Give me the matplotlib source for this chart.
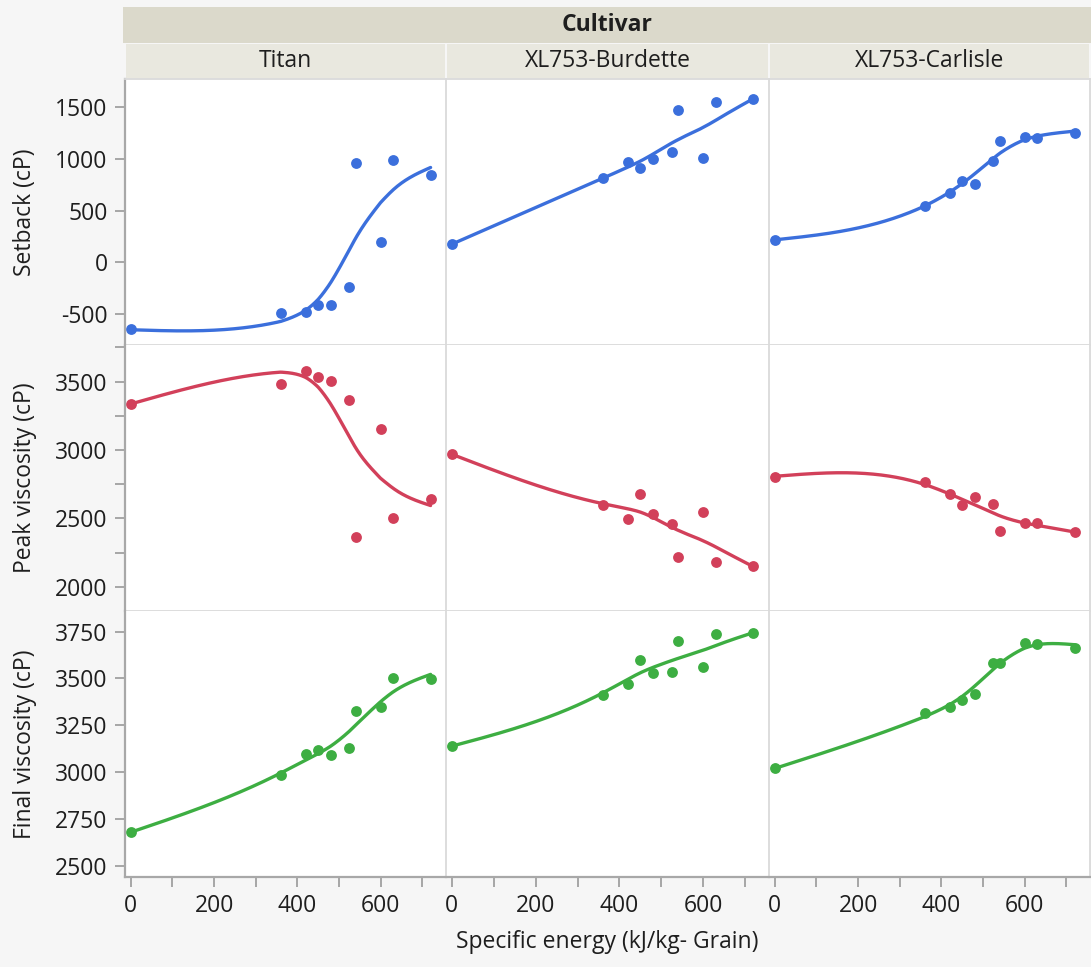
import matplotlib.pyplot as plt
import numpy as np
from matplotlib.patches import Rectangle
from matplotlib.ticker import MultipleLocator

plt.rcParams['font.family'] = ['Open Sans', 'DejaVu Sans']
plt.rcParams['axes.unicode_minus'] = False

# specific energy levels (kJ/kg grain), same for every cultivar
energy = [0, 360, 420, 450, 480, 525, 540, 600, 630, 720]
cultivars = ['Titan', 'XL753-Burdette', 'XL753-Carlisle']

setback_titan = [-650, -495, -480, -410, -415, -235, 960, 195, 990, 845]
setback_burdette = [175, 815, 965, 915, 995, 1070, 1470, 1005, 1545, 1575]
setback_carlisle = [220, 545, 665, 790, 755, 975, 1175, 1210, 1200, 1250]

peak_titan = [3335, 3480, 3580, 3530, 3505, 3365, 2365, 3150, 2500, 2640]
peak_burdette = [2970, 2595, 2495, 2680, 2530, 2460, 2220, 2545, 2180, 2150]
peak_carlisle = [2805, 2765, 2680, 2595, 2655, 2605, 2405, 2470, 2470, 2400]

final_titan = [2680, 2985, 3095, 3120, 3090, 3130, 3325, 3350, 3500, 3495]
final_burdette = [3140, 3410, 3470, 3600, 3530, 3535, 3700, 3560, 3735, 3740]
final_carlisle = [3020, 3315, 3350, 3385, 3415, 3585, 3585, 3690, 3685, 3660]

rows = [
    ('Setback (cP)', [setback_titan, setback_burdette, setback_carlisle], '#3B6FDC',
     (-800, 1772), [-500, 0, 500, 1000, 1500], None),
    ('Peak viscosity (cP)', [peak_titan, peak_burdette, peak_carlisle], '#D2405A',
     (1824, 3767), [2000, 2500, 3000, 3500], 250),
    ('Final viscosity (cP)', [final_titan, final_burdette, final_carlisle], '#3DAE42',
     (2440, 3860), [2500, 2750, 3000, 3250, 3500, 3750], None),
]


def smooth_spline(x, y, lam, grid):
    # cubic smoothing spline (Reinsch), x standardized
    x = np.asarray(x, float)
    y = np.asarray(y, float)
    m, s = x.mean(), x.std(ddof=1)
    t = (x - m) / s
    n = len(t)
    h = np.diff(t)
    Q = np.zeros((n, n - 2))
    R = np.zeros((n - 2, n - 2))
    for j in range(1, n - 1):
        Q[j - 1, j - 1] = 1 / h[j - 1]
        Q[j, j - 1] = -1 / h[j - 1] - 1 / h[j]
        Q[j + 1, j - 1] = 1 / h[j]
        R[j - 1, j - 1] = (h[j - 1] + h[j]) / 3
        if j < n - 2:
            R[j - 1, j] = R[j, j - 1] = h[j] / 3
    K = Q @ np.linalg.solve(R, Q.T)
    g = np.linalg.solve(np.eye(n) + lam * K, y)
    gam = np.concatenate([[0], np.linalg.solve(R, Q.T @ g), [0]])
    tg = (np.asarray(grid, float) - m) / s
    i = np.clip(np.searchsorted(t, tg) - 1, 0, n - 2)
    a = tg - t[i]
    b = t[i + 1] - tg
    hi = h[i]
    return (a * g[i + 1] + b * g[i]) / hi - a * b / 6 * (
        (1 + a / hi) * gam[i + 1] + (1 + b / hi) * gam[i])


W, H = 1091, 967
fig = plt.figure(figsize=(W / 100, H / 100), dpi=100, facecolor='#F6F6F6')
text_col = '#1E1E1E'
fs = 16.5

# header bands
bg = fig.add_axes([0, 0, 1, 1])
bg.set_xlim(0, W)
bg.set_ylim(H, 0)
bg.axis('off')
bg.add_patch(Rectangle((123, 7), W - 123, 36, color='#DBD9CB', lw=0))
col_l = [125, 446, 769]
col_r = [446, 769, 1090]
row_t = [79, 345, 611]
row_b = [345, 611, 877]
for c in range(3):
    bg.add_patch(Rectangle((col_l[c] + 1, 44), col_r[c] - col_l[c] - 2, 34,
                           color='#E9E8DF', lw=0))
    bg.text((col_l[c] + col_r[c]) / 2, 61, cultivars[c], ha='center', va='center',
            fontsize=fs, color=text_col)
bg.text((125 + 1090) / 2, 25, 'Cultivar', ha='center', va='center',
        fontsize=fs, fontweight='bold', color=text_col)

grid = np.linspace(0, 720, 300)
for r, (label, series, color, ylim, yticks, minor) in enumerate(rows):
    for c in range(3):
        ax = fig.add_axes([col_l[c] / W, 1 - row_b[r] / H,
                           (col_r[c] - col_l[c]) / W, (row_b[r] - row_t[r]) / H])
        ax.set_facecolor('white')
        y = series[c]
        ax.plot(grid, smooth_spline(energy, y, 0.02, grid), color=color, lw=2.4,
                solid_capstyle='round')
        ax.plot(energy, y, 'o', color=color, ms=7.8, mec='none')
        ax.set_xlim(-14, 757)
        ax.set_ylim(*ylim)
        for sp in ax.spines.values():
            sp.set_color('#DADADA')
            sp.set_linewidth(1.3)
        if c < 2:
            ax.spines['right'].set_visible(False)
        if r > 0:
            ax.spines['top'].set_visible(False)
        ax.set_yticks(yticks)
        if minor:
            ax.yaxis.set_minor_locator(MultipleLocator(minor))
        ax.xaxis.set_major_locator(MultipleLocator(200))
        ax.xaxis.set_minor_locator(MultipleLocator(100))
        ax.tick_params(which='both', colors='#A0A0A0', labelcolor=text_col,
                       labelsize=fs, length=7.5, width=1.3)
        if c == 0:
            ax.spines['left'].set_color('#A8A8A8')
            ax.spines['left'].set_linewidth(1.6)
            ax.tick_params(axis='y', which='both', pad=5)
            ax.set_ylabel(label, fontsize=fs, color=text_col)
            ax.yaxis.set_label_coords(-0.275, 0.5)
        else:
            ax.tick_params(axis='y', which='both', left=False, labelleft=False)
        if r == 2:
            ax.spines['bottom'].set_color('#A8A8A8')
            ax.spines['bottom'].set_linewidth(1.6)
            ax.tick_params(axis='x', which='both', pad=5)
        else:
            ax.tick_params(axis='x', which='both', bottom=False, labelbottom=False)

fig.text((125 + 1090) / 2 / W, 1 - 942 / H, 'Specific energy (kJ/kg- Grain)',
         ha='center', va='center', fontsize=fs, color=text_col)
fig.savefig('out.png', dpi=100, facecolor=fig.get_facecolor())
